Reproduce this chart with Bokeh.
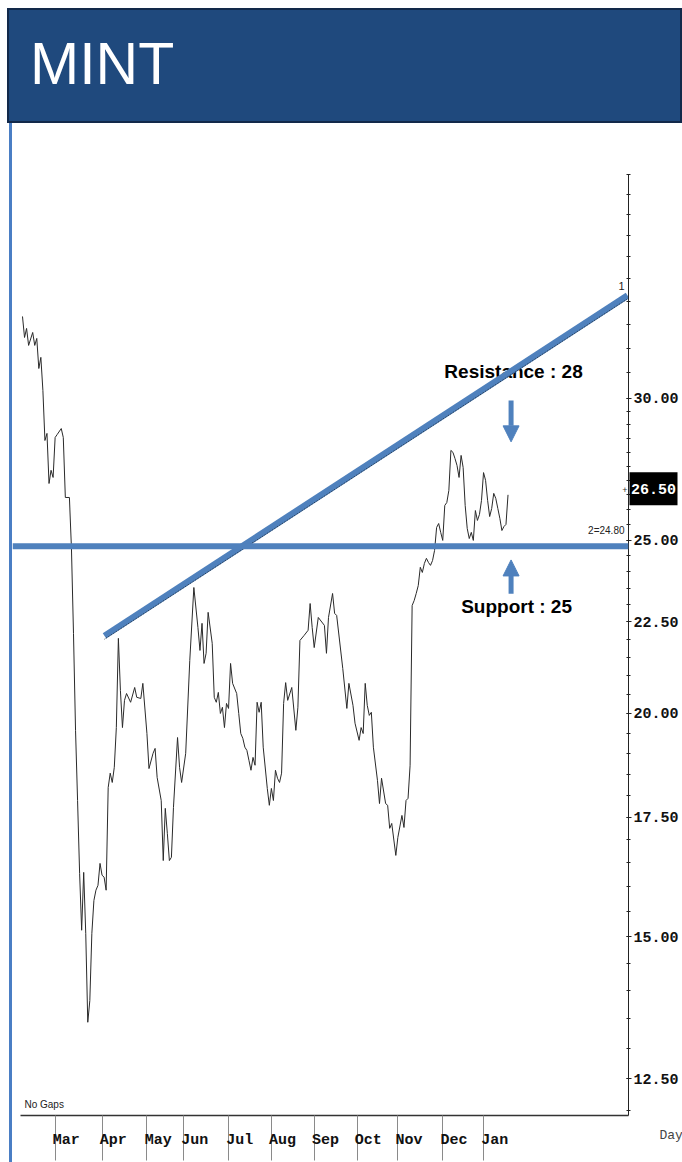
import math

from bokeh.plotting import figure
from bokeh.models import (Range1d, FixedTicker, PrintfTickFormatter, Span, Label,
                          Arrow, NormalHead, Div)
from bokeh.layouts import column, row
from bokeh.core.properties import value
from bokeh.embed import file_html
from bokeh.resources import INLINE

# Daily closes of MINT, indexed by trading day (day 0 = mid February)
day = [0, 1, 2, 3, 5, 6, 7, 8, 9, 10, 11, 12, 13, 14, 15, 16, 17, 19, 20, 21,
       23, 24, 25, 26, 27, 28, 29, 30, 31, 32, 33, 34, 35, 36, 37, 38, 39, 40, 41, 42,
       43, 44, 45, 46, 47, 48, 49, 50, 51, 53, 55, 56, 58, 59, 61, 62, 64, 65, 66, 68,
       69, 70, 71, 72, 73, 74, 76, 77, 78, 80, 82, 84, 86, 87, 88, 89, 90, 91, 93, 94,
       95, 96, 97, 98, 99, 100, 101, 102, 103, 105, 106, 107, 108, 109, 110, 111, 112, 113, 114, 115,
       116, 117, 118, 120, 121, 122, 123, 124, 125, 126, 127, 128, 129, 130, 132, 134, 135, 136, 138, 140,
       141, 142, 143, 145, 148, 149, 150, 152, 153, 154, 157, 159, 160, 162, 163, 165, 166, 167, 168, 169,
       170, 171, 172, 174, 175, 176, 178, 179, 180, 181, 183, 184, 186, 187, 188, 189, 190, 191, 192, 193,
       194, 195, 196, 197, 198, 199, 200, 201, 202, 203, 204, 205, 206, 207, 208, 209, 210, 211, 212, 213,
       214, 215, 216, 217, 218, 219, 220, 221, 222, 223, 224, 225, 226, 227, 228, 229, 230, 231, 232, 233,
       234, 235, 236, 237, 238]
close = [33.34, 32.45, 32.83, 32.12, 32.66, 32.12, 32.41, 31.18, 31.63, 30.31, 28.42, 28.68, 26.89, 27.35, 27.10, 28.53, 28.64, 28.86, 28.53, 26.41,
         26.41, 24.73, 22.17, 19.57, 17.88, 16.28, 15.13, 16.30, 15.07, 13.44, 13.82, 15.07, 15.72, 15.93, 16.03, 16.49, 16.24, 16.20, 15.93, 18.18,
         18.52, 18.30, 18.66, 19.64, 22.03, 20.60, 19.64, 20.34, 20.52, 20.29, 20.68, 20.42, 20.39, 20.79, 19.49, 18.63, 19.00, 19.12, 18.42, 17.88,
         16.55, 17.70, 17.14, 16.55, 16.62, 17.72, 19.39, 18.66, 18.30, 19.00, 21.41, 23.52, 22.34, 21.69, 22.46, 21.33, 21.61, 22.78, 21.89, 20.42,
         20.29, 20.55, 20.00, 20.16, 19.64, 20.26, 20.13, 21.33, 20.79, 20.52, 20.00, 19.49, 19.37, 19.15, 19.07, 18.83, 18.59, 18.90, 18.71, 20.29,
         20.03, 20.29, 19.15, 18.16, 17.77, 18.16, 17.88, 18.59, 18.40, 18.30, 18.52, 20.26, 20.81, 20.34, 20.68, 19.57, 20.16, 21.97, 22.11, 22.26,
         23.04, 22.34, 21.77, 22.63, 22.40, 21.61, 22.63, 23.34, 22.75, 22.69, 21.19, 20.13, 20.79, 20.21, 19.75, 19.32, 19.64, 19.49, 20.79, 20.21,
         19.95, 20.03, 19.15, 18.35, 17.81, 18.40, 17.81, 17.77, 17.25, 17.36, 16.66, 17.05, 17.54, 17.27, 17.88, 17.93, 18.71, 22.98, 23.13, 23.34,
         23.58, 24.14, 23.98, 24.26, 24.42, 24.29, 24.20, 24.35, 24.67, 25.41, 25.54, 25.25, 24.99, 26.14, 26.24, 26.65, 28.06, 27.99, 27.77, 27.52,
         27.10, 27.88, 27.45, 26.14, 25.38, 25.05, 25.25, 24.99, 25.97, 25.64, 25.84, 26.31, 27.27, 27.00, 26.31, 25.77, 26.04, 26.55, 26.38, 26.04,
         25.71, 25.31, 25.44, 25.51, 26.50]

# Month boundaries on the trading-day index
months = ["Mar", "Apr", "May", "Jun", "Jul", "Aug", "Sep", "Oct", "Nov", "Dec", "Jan"]
month_start = [16, 39, 61, 79, 101, 122, 143, 164, 184, 206, 226]

# Price scale labels
price_ticks = [12.5, 15, 17.5, 20, 22.5, 25, 30]

# Drawn levels
SUPPORT = 24.80
trend_day = [40.2, 296.6]
trend_price = [22.1, 34.25]
RESISTANCE_TEXT = "Resistance : 28"
SUPPORT_TEXT = "Support : 25"
LAST_CLOSE = close[-1]

# View window
X_LO, X_HI = -4.9, 297.06
Y_LO, Y_HI = 11.92, 42.74
AXIS_TOP = 40

FIG_W, FIG_H = 670, 1039
BORDER_R, BORDER_B = 54, 47
BAR_X, BAR_W = 9, 3
frame_w, frame_h = FIG_W - BORDER_R, FIG_H - BORDER_B
days_per_px = (X_HI - X_LO) / frame_w
px_per_log = frame_h / math.log(Y_HI / Y_LO)

BLUE = "#4F81BD"
BAR_BLUE = "#4A7EC4"
NAVY = "#1F497D"
MONO = "Liberation Mono"
SANS = "Liberation Sans"

p = figure(width=FIG_W, height=FIG_H,
           x_range=Range1d(X_LO, X_HI), y_range=Range1d(Y_LO, Y_HI),
           y_axis_type="log", y_axis_location="right",
           toolbar_location=None, output_backend="svg",
           min_border_left=0, min_border_right=BORDER_R, min_border_top=0,
           min_border_bottom=BORDER_B)
p.outline_line_color = None
p.grid.visible = False
p.background_fill_color = "white"
p.border_fill_color = "white"

# right price axis
yax = p.yaxis[0]
minor = [12 + 0.5 * i for i in range(37)] + list(range(31, AXIS_TOP + 1))
yax.ticker = FixedTicker(ticks=price_ticks, minor_ticks=minor)
yax.formatter = PrintfTickFormatter(format="%.2f")
yax.bounds = (Y_LO, AXIS_TOP)
yax.axis_line_color = "#222222"
yax.major_tick_line_color = "#222222"
yax.minor_tick_line_color = "#222222"
yax.major_tick_in = 2
yax.major_tick_out = 3
yax.minor_tick_in = 2
yax.minor_tick_out = 2
yax.major_label_standoff = 2
yax.major_label_text_font = MONO
yax.major_label_text_font_style = "bold"
yax.major_label_text_font_size = "15px"
yax.major_label_text_color = "#111111"

# bottom month axis: separators at month starts, names just after them
xax = p.xaxis[0]
label_pos = [m + 5.5 for m in month_start]
xax.ticker = FixedTicker(ticks=label_pos, minor_ticks=month_start)
xax.major_label_overrides = {pos: name for pos, name in zip(label_pos, months)}
xax.bounds = (-1, X_HI)
xax.axis_line_color = "#333333"
xax.axis_line_width = 1.5
xax.major_tick_line_color = None
xax.major_tick_in = 0
xax.major_tick_out = 0
xax.minor_tick_in = 0
xax.minor_tick_out = 45
xax.minor_tick_line_color = "#8a8a8a"
xax.major_label_standoff = -29
xax.major_label_text_font = MONO
xax.major_label_text_font_style = "bold"
xax.major_label_text_font_size = "15px"
xax.major_label_text_color = "#111111"

# annotation texts (drawn beneath the trend line)
p.text(x=[240.7], y=[31.06], text=[RESISTANCE_TEXT], text_font=value(SANS),
       text_font_style="bold", text_font_size="19px", text_align="center",
       text_baseline="alphabetic", text_color="black")
p.text(x=[242.2], y=[22.95], text=[SUPPORT_TEXT], text_font=value(SANS),
       text_font_style="bold", text_font_size="19px", text_align="center",
       text_baseline="alphabetic", text_color="black")

# price
p.line(day, close, line_color="#2a2a2a", line_width=1)

# support and rising trend line; the chart's own thin trend line shows along
# the lower edge of the broad blue stroke
p.add_layout(Span(location=SUPPORT, dimension="width", line_color=BLUE, line_width=6))
p.line(trend_day, trend_price, line_color=BLUE, line_width=6.5)
edge = math.exp(-3.3 / px_per_log)
p.line(trend_day, [v * edge for v in trend_price], line_color="#1c2a3a",
       line_width=1, line_dash="1 1", line_alpha=0.9)

# arrows pointing at the levels
ARROW_DAY = 239.5
p.add_layout(Arrow(end=NormalHead(size=16, fill_color=BLUE, line_color=BLUE),
                   x_start=ARROW_DAY, y_start=29.92, x_end=ARROW_DAY, y_end=28.37,
                   line_color=BLUE, line_width=5))
p.add_layout(Arrow(end=NormalHead(size=16, fill_color=BLUE, line_color=BLUE),
                   x_start=ARROW_DAY, y_start=23.33, x_end=ARROW_DAY, y_end=24.37,
                   line_color=BLUE, line_width=5))

# small chart labels inside the frame
p.add_layout(Label(x=X_HI, y=LAST_CLOSE, x_offset=-1, y_offset=5, text="+",
                   text_color="#333333", text_font_size="9px",
                   text_align="right", text_baseline="middle"))
p.add_layout(Label(x=X_HI, y=SUPPORT, x_offset=-4, y_offset=10, text=f"2={SUPPORT:.2f}",
                   text_color="#222222", text_font=SANS, text_font_size="10px",
                   text_align="right", text_baseline="bottom"))
p.add_layout(Label(x=trend_day[1], y=trend_price[1], x_offset=-3, y_offset=6, text="1",
                   text_color="#222222", text_font=SANS, text_font_size="11px",
                   text_align="right", text_baseline="bottom"))
p.add_layout(Label(x=-1, y=Y_LO, x_offset=4, y_offset=6, text="No Gaps",
                   text_color="#222222", text_font=SANS, text_font_size="10px",
                   text_align="left", text_baseline="bottom"))

# transparent layer on the same scales, spanning the whole canvas, laid over the
# chart for the marks that sit beside the axes
over = figure(width=FIG_W, height=FIG_H,
              x_range=Range1d(X_LO, X_LO + days_per_px * FIG_W),
              y_range=Range1d(Y_HI * math.exp(-FIG_H / px_per_log), Y_HI),
              y_axis_type="log", x_axis_location=None, y_axis_location=None,
              toolbar_location=None, output_backend="svg", min_border=0,
              margin=(-FIG_H, 0, 0, BAR_X + BAR_W))
over.outline_line_color = None
over.grid.visible = False
over.background_fill_alpha = 0
over.border_fill_alpha = 0

# last-price tag on the price scale
tag_day = X_HI + 25 * days_per_px
tag_price = LAST_CLOSE * math.exp(6 / px_per_log)
over.rect(x=[tag_day], y=[tag_price], width=48, height=33,
          width_units="screen", height_units="screen",
          fill_color="black", line_color=None)
over.add_layout(Label(x=tag_day, y=tag_price, text=f"{LAST_CLOSE:.2f}",
                      text_color="white", text_font=MONO, text_font_style="bold",
                      text_font_size="15px", text_align="center", text_baseline="middle"))
over.add_layout(Label(x=X_HI, y=Y_LO, x_offset=31, y_offset=-20, text="Day",
                      text_color="#444444", text_font=MONO, text_font_size="13px",
                      text_align="left", text_baseline="middle"))

title = Div(text="MINT", width=675, height=115, margin=(8, 0, 0, 7),
            styles={"background-color": NAVY, "border": "2px solid #12294A",
                    "box-sizing": "border-box", "color": "white",
                    "font-family": SANS, "font-size": "59px",
                    "padding-left": "21px", "padding-top": "21px", "line-height": "1.15"})
bar = Div(text="", width=BAR_W, height=FIG_H, margin=(0, 0, 0, BAR_X),
          styles={"background-color": BAR_BLUE})

layout = column(title, row(bar, p, spacing=0), over, spacing=0)

with open("out.html", "w") as f:
    f.write(file_html(layout, INLINE))
